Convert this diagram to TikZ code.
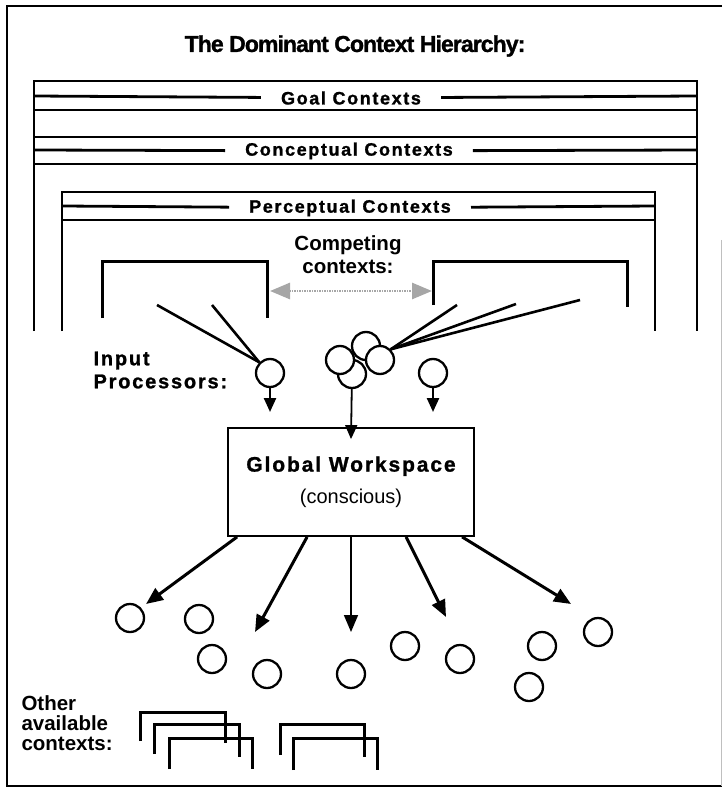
\documentclass[tikz,border=0pt]{standalone}
\usepackage{fontspec}
\setmainfont{Liberation Sans}
\newfontfamily\chifont[UprightFont={* Bold}, FakeBold=1.2, LetterSpace=9]{Liberation Sans}
\newfontfamily\chititle[UprightFont={* Bold}, FakeBold=1.2, LetterSpace=-4]{Liberation Sans}
\usetikzlibrary{arrows.meta}

\begin{document}
\begin{tikzpicture}[x=1pt, y=-1pt,
    frame/.style={line width=2.2pt},
    band/.style={line width=2.8pt},
    bandlabel/.style={font=\chifont\fontsize{18}{18}\selectfont, inner xsep=20pt, inner ysep=0pt},
    helv/.style={font=\bfseries\fontsize{20.5}{23}\selectfont},
    proc/.style={circle, draw, fill=white, line width=2.3pt, minimum size=28pt, inner sep=0pt},
    fan/.style={line width=2.6pt},
    ctx/.style={line width=3pt},
    rival/.style={gray!70, line width=2.8pt, dash pattern=on 1.5pt off 1pt,
        {Triangle[length=20pt,width=16pt]}-{Triangle[length=20pt,width=16pt]}},
    feed/.style={line width=2.4pt, -{Triangle[length=14pt,width=12pt]}},
    arr/.style={line width=3pt, -{Triangle[length=17pt,width=14pt]}}
]
    \useasboundingbox (0,0) rectangle (722,791);

    % Frame
    \draw[frame] (722,6) -- (7,6) -- (7,786) -- (722,786);
    \draw[gray!50, line width=0.8pt] (721,240) -- (721,786);

    % Title
    \node[font=\chititle\fontsize{23}{23}\selectfont] (title) at (355,46) {The Dominant Context Hierarchy:};

    % Goal and conceptual contexts (one outer box)
    \draw[band] (34,331) -- (34,81) -- (697,81) -- (697,331);
    \node[bandlabel] (goal) at (351,98) {Goal Contexts};
    \draw[band] (34,96) -- (goal) -- (697,96);
    \draw[band] (34,110) -- (697,110);
    \draw[band] (34,137) -- (697,137);
    \node[bandlabel] (concept) at (349,151) {Conceptual Contexts};
    \draw[band] (34,150) -- (concept) -- (697,150);
    \draw[band] (34,164) -- (697,164);

    % Perceptual contexts
    \draw[band] (62,331) -- (62,192) -- (655,192) -- (655,331);
    \node[bandlabel] (percept) at (350,208) {Perceptual Contexts};
    \draw[band] (62,206) -- (percept) -- (655,206);
    \draw[band] (62,220) -- (655,220);

    % Competing contexts
    \node[helv, align=center] (compete) at (348,255) {Competing\\contexts:};
    \draw[ctx] (102,318) |- (267,262) -- (267,318);
    \draw[ctx] (433,305) |- (627,262) -- (627,307);
    \coordinate (cmpL) at (270,291);
    \coordinate (cmpR) at (432,291);
    \draw[rival] (cmpL) -- (cmpR);

    % Input processors
    \node[font=\chifont\fontsize{20}{23}\selectfont, align=left, anchor=west] (input) at (90,370) {Input\\Processors:};
    \node[proc] (ipL) at (270,373) {};
    \node[proc] (c2) at (352,374) {};
    \node[proc] (c1) at (340,360) {};
    \node[proc] (c3) at (366,346) {};
    \node[proc] (c4) at (380,360) {};
    \node[proc] (ipR) at (433,373) {};

    % Fans from the competing contexts
    \coordinate (fl1) at (157,305);
    \coordinate (fl2) at (212,305);
    \draw[fan] (fl1) -- (ipL.north west);
    \draw[fan] (fl2) -- (ipL.north west);
    \coordinate (fr1) at (457,305);
    \coordinate (fr2) at (516,304);
    \coordinate (fr3) at (580,300);
    \draw[fan] (fr1) -- (c4.north east);
    \draw[fan] (fr2) -- (c4.north east);
    \draw[fan] (fr3) -- (c4.north east);

    % Global workspace
    \node[draw, line width=1.8pt, minimum width=246pt, minimum height=108pt, align=center] (gw) at (351,482)
        {{\chifont\fontsize{21}{20}\selectfont Global Workspace}\\[12pt]{\fontsize{20}{20}\selectfont (conscious)}};

    % Inputs into the workspace
    \coordinate (tL) at (270,412);
    \coordinate (tR) at (433,412);
    \draw[feed] (ipL) -- (tL);
    \draw[feed] (ipR) -- (tR);
    \draw[feed, line width=1.8pt] (c2) -- ([yshift=-12pt]gw.north);

    % Broadcast to the other processors
    \coordinate (t1) at (146,604);
    \coordinate (t2) at (255,632);
    \coordinate (t3) at (351,632);
    \coordinate (t4) at (446,617);
    \coordinate (t5) at (571,604);
    \draw[arr] ([xshift=10pt]gw.south west) -- (t1);
    \draw[arr] ([xshift=80pt]gw.south west) -- (t2);
    \draw[arr, line width=1.6pt] (gw.south) -- (t3);
    \draw[arr] ([xshift=179pt]gw.south west) -- (t4);
    \draw[arr] ([xshift=235pt]gw.south west) -- (t5);

    % Unconscious processors
    \node[proc] (p1) at (130,618) {};
    \node[proc] (p2) at (199,619) {};
    \node[proc] (p3) at (212,659) {};
    \node[proc] (p4) at (267,674) {};
    \node[proc] (p5) at (351,674) {};
    \node[proc] (p6) at (405,646) {};
    \node[proc] (p7) at (460,659) {};
    \node[proc] (p8) at (542,646) {};
    \node[proc] (p9) at (598,632) {};
    \node[proc] (p10) at (529,687) {};

    % Other available contexts
    \node[font=\bfseries\fontsize{20.5}{20}\selectfont, align=left, anchor=west] (other) at (18,723) {Other\\available\\contexts:};
    \draw[ctx] (140,741) |- (225,712) -- (225,743);
    \draw[ctx] (154,754) |- (239,724) -- (239,757);
    \draw[ctx] (169,769) |- (252,738) -- (252,769);
    \draw[ctx] (280,755) |- (364,724) -- (364,757);
    \draw[ctx] (293,770) |- (377,738) -- (377,770);

\end{tikzpicture}
\end{document}
